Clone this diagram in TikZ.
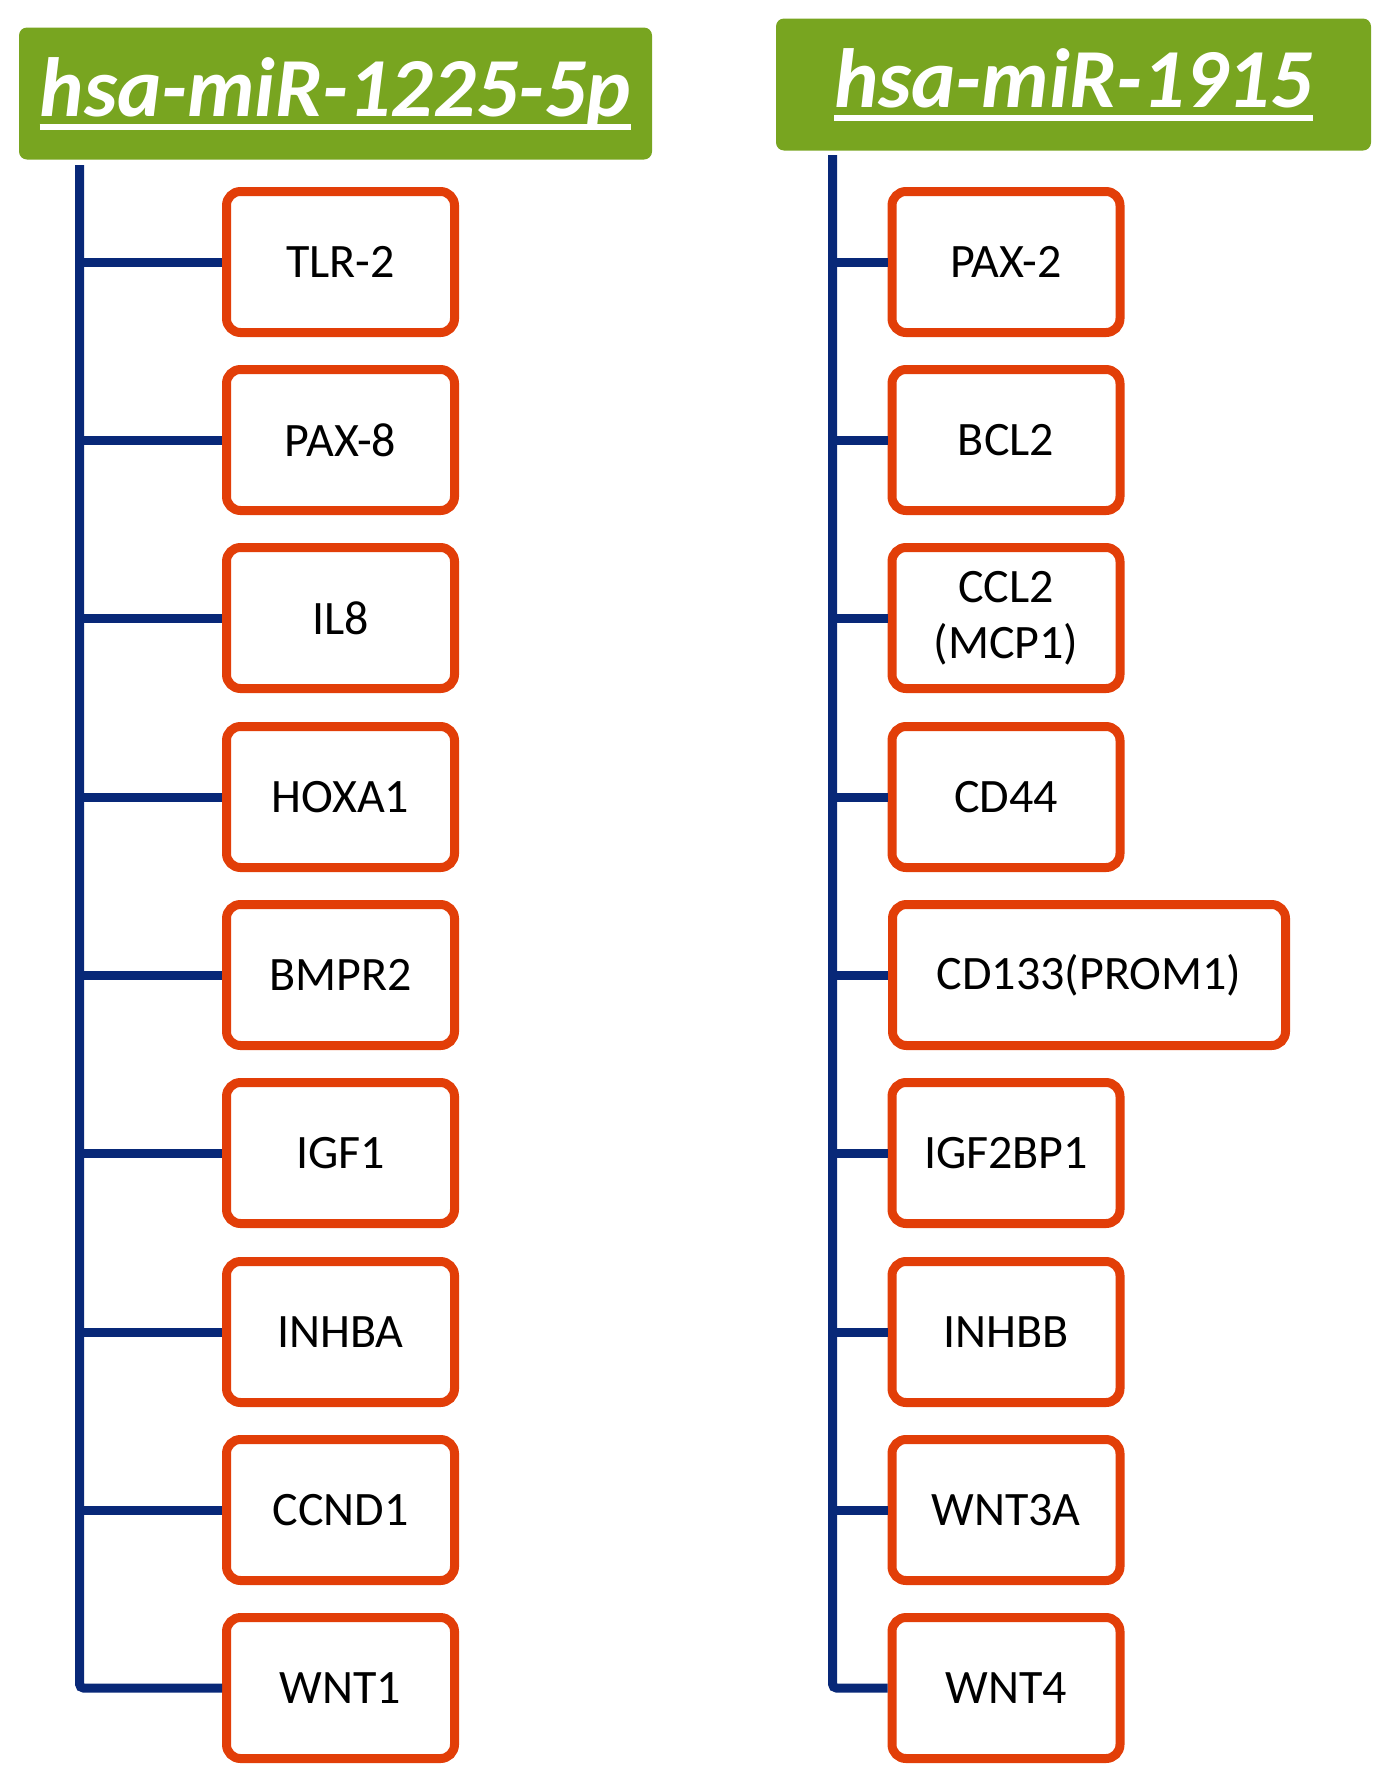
\documentclass[tikz,border=0pt]{standalone}
\usepackage{fontspec}
\setmainfont{Carlito}
\usepackage{tikz}
\usetikzlibrary{positioning}
\definecolor{mirgreen}{RGB}{120,165,32}
\definecolor{geneorange}{RGB}{226,62,8}
\definecolor{linknavy}{RGB}{8,40,120}
\newcommand{\mirul}[1]{\setbox0=\hbox{#1}\rlap{\rule[-6.8pt]{\wd0}{2.8pt}}\box0}

\begin{document}
\begin{tikzpicture}[
  x=0.5pt, y=-0.5pt,
  mirna/.style={rectangle, rounded corners=4pt, fill=mirgreen, text=white,
                minimum width=#1, minimum height=66pt, inner sep=0pt,
                font=\fontsize{42}{50}\selectfont\bfseries\itshape},
  gene/.style={rectangle, rounded corners=7pt, draw=geneorange, line width=4.5pt,
               fill=white, minimum width=114pt, minimum height=70.5pt,
               align=center, inner sep=0pt,
               font=\fontsize{24}{28}\selectfont},
  link/.style={draw=linknavy, line width=4.5pt, rounded corners=2pt}
]
  \useasboundingbox (0,0) rectangle (1391,1783);

  % microRNA headers
  \node[mirna=316.5pt] (mir1225) at (335.5,93.5)  {\mirul{hsa-miR-1225-5p}};
  \node[mirna=297.5pt] (mir1915) at (1073.5,84.5) {\mirul{hsa-miR-1915}};

  % targets of hsa-miR-1225-5p
  \node[gene] (tlr2)  at (340.5,262)  {TLR-2};
  \node[gene] (pax8)  at (340.5,440)  {PAX-8};
  \node[gene] (il8)   at (340.5,618)  {IL8};
  \node[gene] (hoxa1) at (340.5,797)  {HOXA1};
  \node[gene] (bmpr2) at (340.5,975)  {BMPR2};
  \node[gene] (igf1)  at (340.5,1153) {IGF1};
  \node[gene] (inhba) at (340.5,1332) {INHBA};
  \node[gene] (ccnd1) at (340.5,1510) {CCND1};
  \node[gene] (wnt1)  at (340.5,1688) {WNT1};

  % targets of hsa-miR-1915
  \node[gene] (pax2)    at (1006,262)  {PAX-2};
  \node[gene] (bcl2)    at (1006,440)  {BCL2};
  \node[gene] (ccl2)    at (1006,618)  {CCL2\\(MCP1)};
  \node[gene] (cd44)    at (1006,797)  {CD44};
  \node[gene, minimum width=196.5pt] (cd133) at (1089,975) {CD133(PROM1)};
  \node[gene] (igf2bp1) at (1006,1153) {IGF2BP1};
  \node[gene] (inhbb)   at (1006,1332) {INHBB};
  \node[gene] (wnt3a)   at (1006,1510) {WNT3A};
  \node[gene] (wnt4)    at (1006,1688) {WNT4};

  % trunks
  \coordinate (ltop) at (79.5,165);
  \coordinate (rtop) at (832.5,155);
  \draw[link] (ltop) |- (wnt1.west);
  \draw[link] (rtop) |- (wnt4.west);

  % branches
  \draw[link] (ltop |- tlr2)  -- (tlr2.west);
  \draw[link] (ltop |- pax8)  -- (pax8.west);
  \draw[link] (ltop |- il8)   -- (il8.west);
  \draw[link] (ltop |- hoxa1) -- (hoxa1.west);
  \draw[link] (ltop |- bmpr2) -- (bmpr2.west);
  \draw[link] (ltop |- igf1)  -- (igf1.west);
  \draw[link] (ltop |- inhba) -- (inhba.west);
  \draw[link] (ltop |- ccnd1) -- (ccnd1.west);

  \draw[link] (rtop |- pax2)    -- (pax2.west);
  \draw[link] (rtop |- bcl2)    -- (bcl2.west);
  \draw[link] (rtop |- ccl2)    -- (ccl2.west);
  \draw[link] (rtop |- cd44)    -- (cd44.west);
  \draw[link] (rtop |- cd133)   -- (cd133.west);
  \draw[link] (rtop |- igf2bp1) -- (igf2bp1.west);
  \draw[link] (rtop |- inhbb)   -- (inhbb.west);
  \draw[link] (rtop |- wnt3a)   -- (wnt3a.west);
\end{tikzpicture}
\end{document}
